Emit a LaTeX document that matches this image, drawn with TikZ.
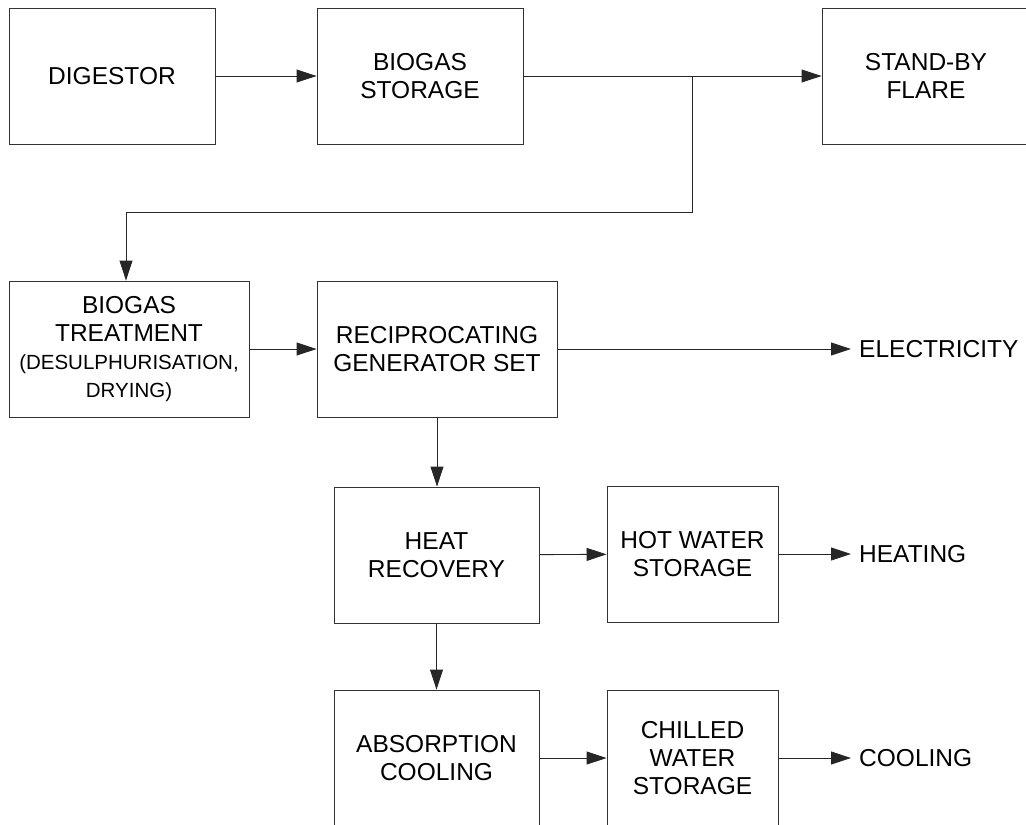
\documentclass[tikz,border=0pt]{standalone}
\usepackage{fontspec}
\setmainfont{Liberation Sans}
\usetikzlibrary{arrows.meta}
\begin{document}
\begin{tikzpicture}[x=1pt,y=-1pt,
  blk/.style={draw=black!80, line width=0.9pt, fill=white, inner sep=0pt,
    align=center, font=\fontsize{24.5}{28}\selectfont},
  lbl/.style={anchor=west, inner sep=8pt, font=\fontsize{24.5}{28}\selectfont},
  arr/.style={line width=0.9pt, draw=black!85, -{Triangle[length=20pt,width=13pt]}},
  ln/.style={line width=0.9pt, draw=black!85}]
\useasboundingbox (0,0) rectangle (1026,825);
\clip (0,0) rectangle (1026,825);
\fill[white] (0,0) rectangle (1026,825);
% top row
\node[blk, minimum width=206pt, minimum height=136pt] (dig) at (112,76) {DIGESTOR};
\node[blk, minimum width=206pt, minimum height=136pt] (sto) at (420,76) {BIOGAS\\STORAGE};
\node[blk, minimum width=208pt, minimum height=136pt] (flare) at (926,76) {STAND-BY\\FLARE};
% middle row
\node[blk, minimum width=240pt, minimum height=136pt] (treat) at (129,349)
  {BIOGAS\\TREATMENT\\{\fontsize{20.5}{27}\selectfont (DESULPHURISATION,}\\{\fontsize{20.5}{26}\selectfont DRYING)}};
\node[blk, minimum width=240pt, minimum height=136pt] (rgs) at (437,349) {RECIPROCATING\\GENERATOR SET};
\node[lbl] (elec) at (851,349) {ELECTRICITY};
% heat row
\node[blk, minimum width=205pt, minimum height=136pt] (heat) at (436.5,555) {HEAT\\RECOVERY};
\node[blk, minimum width=171pt, minimum height=136pt] (hot) at (692.5,554) {HOT WATER\\STORAGE};
\node[lbl] (heating) at (851,554) {HEATING};
% cooling row
\node[blk, minimum width=205pt, minimum height=136pt] (abs) at (436.5,758) {ABSORPTION\\COOLING};
\node[blk, minimum width=171pt, minimum height=136pt] (chl) at (692.5,758) {CHILLED\\WATER\\STORAGE};
\node[lbl] (cool) at (851,758) {COOLING};
% branch coordinates
\coordinate (br) at (692,76);
\coordinate (bl) at (692,212);
\coordinate (bt) at (126,212);
% connectors
\draw[arr] (dig) -- (sto);
\draw[arr] (sto) -- (flare);
\draw[ln] (br) -- (bl) -- (bt);
\draw[arr] (bt) -- (bt |- treat.north);
\draw[arr] (treat) -- (rgs);
\draw[arr] (rgs) -- (elec.west);
\draw[arr] (rgs.south) -- (rgs.south |- heat.north);
\draw[arr] (heat) -- (hot);
\draw[arr] (hot) -- (heating.west);
\draw[arr] (heat.south) -- (abs.north);
\draw[arr] (abs) -- (chl);
\draw[arr] (chl) -- (cool.west);
\end{tikzpicture}
\end{document}
